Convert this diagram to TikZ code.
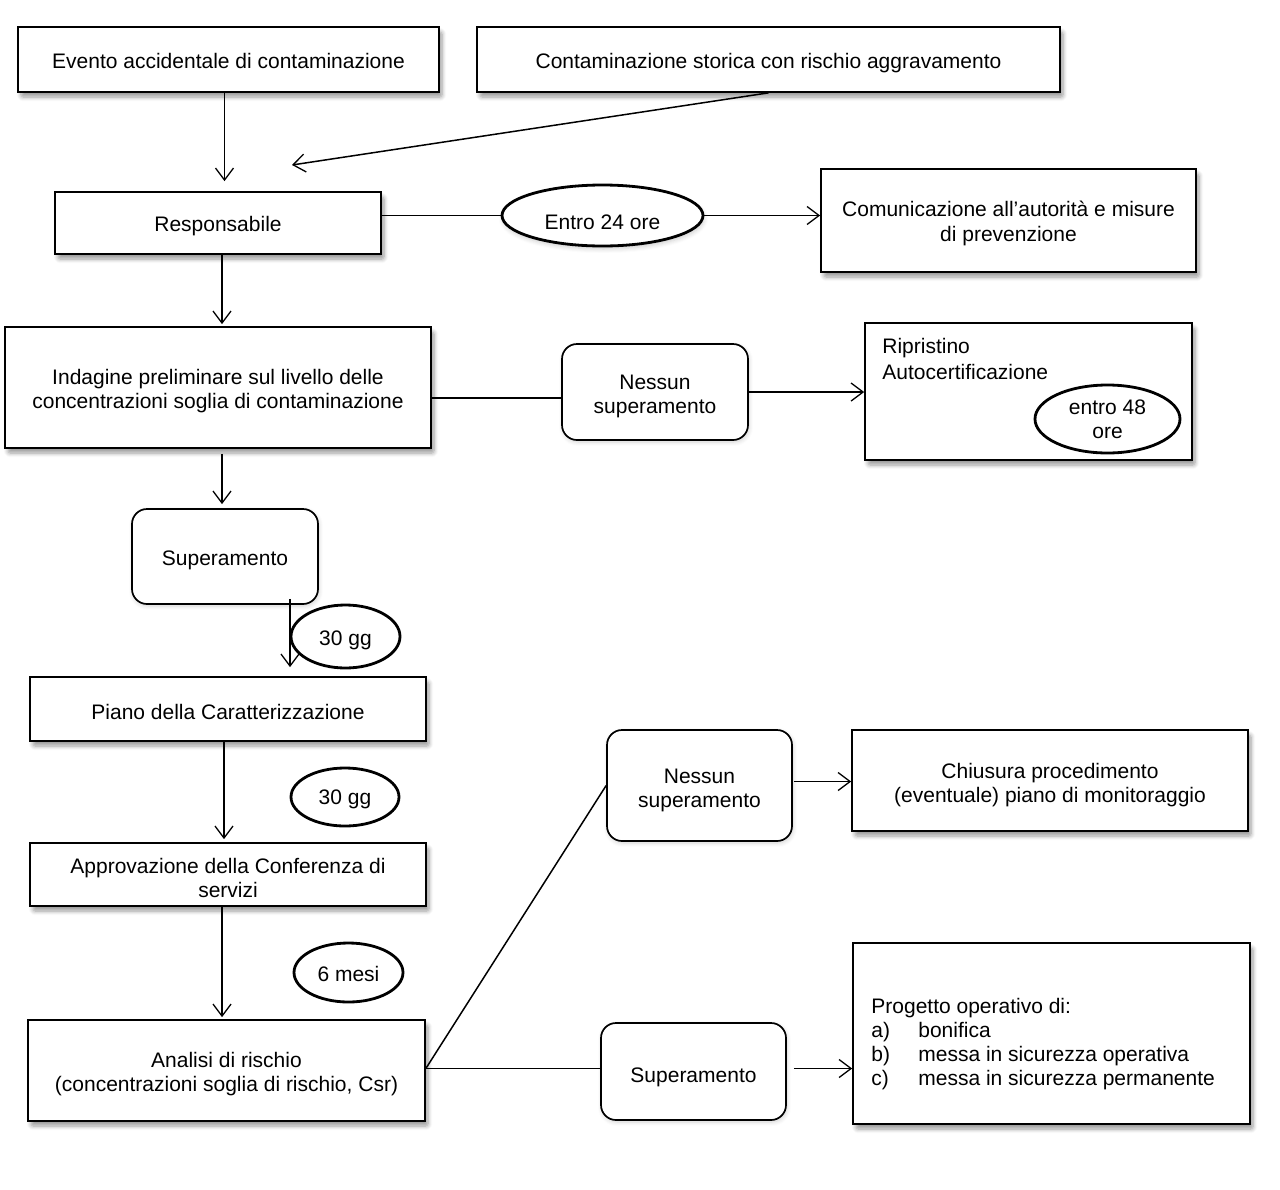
\documentclass[tikz,border=0pt]{standalone}
\usepackage{fontspec}
\setmainfont{Liberation Sans}
\usetikzlibrary{arrows.meta,shapes.geometric,shadows,shadows.blur}
\newcommand{\lowtxt}{\rule{0pt}{10.7pt}}
\newcommand{\lowtwo}{\rule{0pt}{10.9pt}}
\newcommand{\lowthree}{\rule{0pt}{11.9pt}}
\begin{document}
\begin{tikzpicture}[x=0.5pt,y=-0.5pt,
  every node/.style={font=\fontsize{10.5}{12}\selectfont, inner sep=0pt},
  box/.style={draw, line width=0.85pt, fill=white, rectangle, align=center,
    blur shadow={shadow xshift=1.5pt, shadow yshift=-2.5pt, shadow opacity=40, shadow blur steps=6, shadow blur extra rounding=1pt}},
  rbox/.style={draw, line width=0.85pt, fill=white, rectangle, rounded corners=7.5pt, align=center,
    blur shadow={shadow xshift=0.5pt, shadow yshift=-1pt, shadow opacity=18, shadow blur steps=6}},
  oval/.style={draw, line width=1.4pt, ellipse, align=center},
  conn/.style={line width=0.75pt},
  arr/.style={line width=0.75pt, -{Straight Barb[length=6pt,width=9pt,line width=0.65pt]}}]
\useasboundingbox (0,0) rectangle (1280,1189);

\node[box, minimum width=210.5pt, minimum height=32.5pt] (evento) at (228.5,59.5) {\rule{0pt}{9.2pt}Evento accidentale di contaminazione};
\node[box, minimum width=291.5pt, minimum height=32.5pt] (contam) at (768.5,59.5) {\lowtxt Contaminazione storica con rischio aggravamento};
\node[box, minimum width=163pt, minimum height=31pt] (resp) at (218,223) {\lowtxt Responsabile};
\node[oval, minimum width=100.5pt, minimum height=30.5pt, fill=white, blur shadow={shadow xshift=0.5pt, shadow yshift=-1.5pt, shadow opacity=20, shadow blur steps=5}] (e24) at (602.5,215.5) {\rule{0pt}{14pt}Entro 24 ore};
\node[box, minimum width=187.5pt, minimum height=51.5pt] (comm) at (1008.5,220.5) {\lowtwo Comunicazione all’autorità e misure\\[0.5pt]di prevenzione};
\node[box, minimum width=213pt, minimum height=60.5pt] (indag) at (218,387.5) {\lowtwo Indagine preliminare sul livello delle\\concentrazioni soglia di contaminazione};
\node[rbox, minimum width=93pt, minimum height=48pt] (nes1) at (655,392) {\lowthree Nessun\\superamento};
\node[box, minimum width=163.5pt, minimum height=68.5pt] (ripr) at (1028.5,391.5) {};
\node[anchor=west, align=left, font=\fontsize{10.5}{13}\selectfont] (riprtxt) at (882,359) {Ripristino\\Autocertificazione};
\node[oval, minimum width=72.5pt, minimum height=34pt] (e48) at (1107.5,419) {entro 48\\ore};
\node[rbox, minimum width=93pt, minimum height=47.5pt] (sup1) at (225,556.5) {\lowtxt Superamento};
\node[oval, minimum width=54.5pt, minimum height=31.5pt] (g30a) at (345.5,636.5) {\lowtxt 30 gg};
\node[box, minimum width=198pt, minimum height=32pt] (piano) at (228,709) {\lowtxt Piano della Caratterizzazione};
\node[oval, minimum width=54pt, minimum height=29pt] (g30b) at (345,797) {\rule{0pt}{9.7pt}30 gg};
\node[box, minimum width=198pt, minimum height=31.5pt] (appr) at (228,874.5) {\lowtwo Approvazione della Conferenza di\\servizi};
\node[oval, minimum width=54.5pt, minimum height=29.5pt] (m6) at (348.5,972.5) {\rule{0pt}{9.2pt}6 mesi};
\node[box, minimum width=198.5pt, minimum height=50.5pt] (anal) at (226.5,1070.5) {\lowtwo Analisi di rischio\\(concentrazioni soglia di rischio, Csr)};
\node[rbox, minimum width=92.5pt, minimum height=55.5pt] (nes2) at (699.5,785.5) {\lowthree Nessun\\superamento};
\node[box, minimum width=198pt, minimum height=50.5pt] (chius) at (1050,780.5) {\lowthree Chiusura procedimento\\(eventuale) piano di monitoraggio};
\node[rbox, minimum width=92.5pt, minimum height=48.5pt] (sup2) at (693.5,1071.5) {\rule{0pt}{13pt}Superamento};
\node[box, minimum width=198.5pt, minimum height=90.5pt] (prog) at (1051.5,1033.5) {};
\node[anchor=west, align=left] (progtxt) at (871,1044) {Progetto operativo di:\\\makebox[23.5pt][l]{a)}bonifica\\\makebox[23.5pt][l]{b)}messa in sicurezza operativa\\\makebox[23.5pt][l]{c)}messa in sicurezza permanente};

\coordinate (tip1) at (292,165);

% connectors
\draw[arr, shorten >=5pt] ([xshift=-2pt]evento.south) -- ([xshift=-2pt]evento.south |- resp.north);
\draw[arr] (contam.south) -- (tip1);
\draw[conn] (e24.west -| resp.east) -- (e24.west);
\draw[arr] (e24.east) -- (e24.east -| comm.west);
\draw[arr, shorten >=1pt] ([xshift=2pt]resp.south) -- ([xshift=2pt]resp.south |- indag.north);
\draw[conn] ([yshift=-3pt]nes1.west -| indag.east) -- ([yshift=-3pt]nes1.west);
\draw[arr] (nes1.east) -- (nes1.east -| ripr.west);
\draw[arr, shorten >=2pt] ([xshift=2pt,yshift=-2.5pt]indag.south) -- ([xshift=2pt]indag.south |- sup1.north);
\draw[arr] ([xshift=32.5pt,yshift=3pt]sup1.south) -- ([xshift=31pt,yshift=4.5pt]piano.north);
\draw[arr, shorten >=1.5pt] ([xshift=-2pt]piano.south) -- ([xshift=-2pt]piano.south |- appr.north);
\draw[arr, shorten >=1pt] ([xshift=-3pt]appr.south) -- ([xshift=-3pt]appr.south |- anal.north);
\draw[conn] ([yshift=1pt]anal.east) -- ([yshift=1.5pt]sup2.west);
\draw[arr] ([xshift=3.5pt,yshift=1.5pt]sup2.east) -- ([yshift=1.5pt]sup2.east -| prog.west);
\draw[conn] ([yshift=1pt]anal.east) -- (nes2.west);
\draw[arr] ([xshift=0.5pt,yshift=2pt]nes2.east) -- ([yshift=2pt]nes2.east -| chius.west);
\end{tikzpicture}
\end{document}
